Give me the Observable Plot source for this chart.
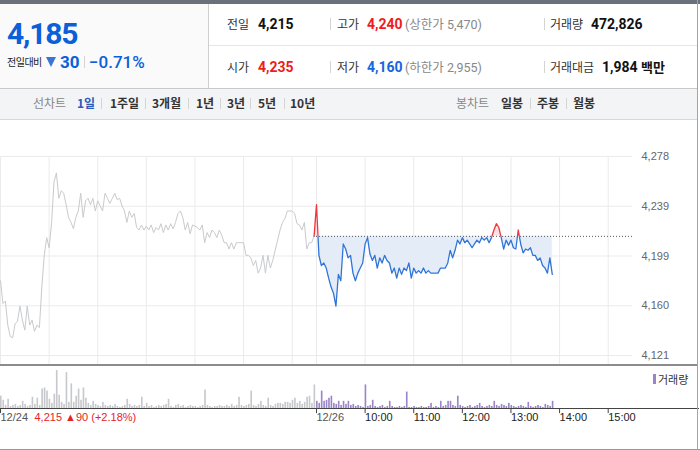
<!DOCTYPE html>
<html><head><meta charset="utf-8">
<script src="https://cdn.jsdelivr.net/npm/d3@7"></script>
<script src="https://cdn.jsdelivr.net/npm/@observablehq/plot@0.6"></script>
<style>
body{margin:0;width:700px;height:450px;position:relative;overflow:hidden;background:#fff;font-family:Roboto,"Noto Sans CJK KR",sans-serif;}
.a{position:absolute;white-space:nowrap;line-height:16px;}
.k{font-family:"Noto Sans CJK KR",sans-serif;}
.sep{position:absolute;width:1px;background:#d4d4d4;}
.lab{font-size:12px;color:#333;}
.val{font-size:14px;font-weight:700;color:#111;}
.lim{font-size:12.5px;color:#888;}
.tab{font-size:12px;font-weight:700;color:#333;top:95px;}
</style></head><body>
<div style="position:absolute;left:0;top:0;width:700px;height:4px;background:#6b717b"></div>
<div style="position:absolute;left:0;top:4px;width:208px;height:84px;background:#fafafa;border-right:1px solid #cfcfcf"></div>
<div style="position:absolute;left:209px;top:45px;width:488px;height:1px;background:#e6e6e6"></div>
<div style="position:absolute;left:0;top:88px;width:697px;height:30px;background:#f3f4f6;border-top:1px solid #c8c8c8;border-bottom:1px solid #d8d8d8"></div>

<span class="a" style="left:7px;top:17px;font-size:30px;line-height:34px;font-weight:700;color:#0b5fd9;letter-spacing:-1.2px">4,185</span>
<span class="a k" style="left:7px;top:54px;font-size:10px;letter-spacing:-0.5px;color:#222">전일대비</span>
<div style="position:absolute;left:46px;top:57px;width:0;height:0;border-left:5.5px solid transparent;border-right:5.5px solid transparent;border-top:10px solid #3b74d4"></div>
<span class="a" style="left:60px;top:53px;font-size:17px;line-height:18px;font-weight:700;color:#0b5fd9">30</span>
<div class="sep" style="left:84px;top:56px;height:12px"></div>
<span class="a" style="left:89px;top:53px;font-size:17px;line-height:18px;font-weight:500;color:#0b5fd9">−0.71%</span>

<span class="a k lab" style="left:227px;top:16px">전일</span>
<span class="a val" style="left:258px;top:16px">4,215</span>
<div class="sep" style="left:330px;top:18px;height:12px"></div>
<span class="a k lab" style="left:337px;top:16px">고가</span>
<span class="a val" style="left:367px;top:16px;color:#f01c1c">4,240</span>
<span class="a lim" style="left:405px;top:16px">(<span class="k">상한가</span> 5,470)</span>
<div class="sep" style="left:544px;top:18px;height:12px"></div>
<span class="a k lab" style="left:550px;top:16px">거래량</span>
<span class="a val" style="left:591px;top:16px">472,826</span>

<span class="a k lab" style="left:227px;top:59px">시가</span>
<span class="a val" style="left:258px;top:59px;color:#f01c1c">4,235</span>
<div class="sep" style="left:330px;top:61px;height:12px"></div>
<span class="a k lab" style="left:337px;top:59px">저가</span>
<span class="a val" style="left:367px;top:59px;color:#1467e0">4,160</span>
<span class="a lim" style="left:405px;top:59px">(<span class="k">하한가</span> 2,955)</span>
<div class="sep" style="left:544px;top:61px;height:12px"></div>
<span class="a k lab" style="left:550px;top:59px">거래대금</span>
<span class="a val" style="left:602px;top:59px">1,984 <span class="k" style="font-size:13px">백만</span></span>

<span class="a k tab" style="left:33px;font-weight:400;color:#888">선차트</span>
<span class="a k tab" style="left:77px;color:#2a5bb8">1일</span>
<div class="sep" style="left:101px;top:98px;height:11px"></div>
<span class="a k tab" style="left:110px">1주일</span>
<div class="sep" style="left:145px;top:98px;height:11px"></div>
<span class="a k tab" style="left:152px">3개월</span>
<div class="sep" style="left:188px;top:98px;height:11px"></div>
<span class="a k tab" style="left:196px">1년</span>
<div class="sep" style="left:220px;top:98px;height:11px"></div>
<span class="a k tab" style="left:227px">3년</span>
<div class="sep" style="left:250px;top:98px;height:11px"></div>
<span class="a k tab" style="left:258px">5년</span>
<div class="sep" style="left:284px;top:98px;height:11px"></div>
<span class="a k tab" style="left:290px">10년</span>
<span class="a k tab" style="left:456px;font-weight:400;color:#888">봉차트</span>
<span class="a k tab" style="left:501px">일봉</span>
<div class="sep" style="left:530px;top:98px;height:11px"></div>
<span class="a k tab" style="left:537px">주봉</span>
<div class="sep" style="left:566px;top:98px;height:11px"></div>
<span class="a k tab" style="left:573px">월봉</span>

<div id="price" style="position:absolute;left:0;top:120px;width:700px;height:245px"></div>
<div id="vol" style="position:absolute;left:0;top:365px;width:700px;height:85px"></div>
<div style="position:absolute;left:0;top:364px;width:697px;height:2px;background:#8c8c8c"></div>
<div style="position:absolute;left:0;top:449px;width:700px;height:1px;background:#9a9a9a"></div>
<div style="position:absolute;left:697px;top:0;width:1px;height:450px;background:#a4a4a4"></div>
<div style="position:absolute;left:653px;top:374px;width:3px;height:10px;background:#9a85c9"></div>
<span class="a k" style="left:658px;top:371px;font-size:11px;color:#333">거래량</span>

<script>
// ---- data ----
const basePrice = 4215;            // previous close
const stepMinutes = 3;             // sampling interval
const sessionMinutes = 390;        // 09:00 - 15:30
const prevPrice = [4180,4162,4164,4145,4136,4135,4146,4148,4160,4149,
 4141,4160,4145,4149,4140,4145,4143,4175,4200,4214,
 4206,4225,4258,4265,4245,4251,4249,4240,4230,4226,
 4221,4230,4235,4249,4230,4243,4245,4240,4245,4235,
 4243,4239,4235,4249,4245,4241,4245,4249,4244,4245,
 4239,4235,4226,4235,4230,4233,4222,4220,4224,4220,
 4223,4220,4224,4218,4222,4220,4225,4218,4224,4220,
 4225,4221,4226,4233,4235,4230,4220,4226,4217,4224,
 4223,4222,4220,4224,4210,4218,4214,4220,4218,4214,
 4220,4216,4210,4210,4205,4210,4205,4210,4210,4210,
 4210,4200,4200,4198,4192,4196,4186,4190,4200,4186,
 4200,4190,4196,4204,4212,4220,4226,4229,4235,4235,
 4235,4233,4225,4224,4220,4226,4205,4210,4210,4215];
const todayPrice = [4240,4200,4192,4194,4190,4182,4175,4170,4160,4185,
 4180,4209,4205,4198,4200,4186,4180,4186,4190,4194,
 4209,4214,4201,4196,4200,4190,4198,4194,4200,4196,
 4194,4186,4190,4182,4190,4185,4190,4188,4194,4182,
 4190,4186,4188,4186,4190,4186,4188,4186,4186,4186,
 4186,4190,4190,4190,4194,4204,4198,4204,4212,4209,
 4214,4210,4212,4209,4206,4209,4212,4210,4214,4212,
 4214,4210,4214,4220,4225,4222,4214,4205,4212,4208,
 4212,4206,4205,4220,4209,4202,4205,4204,4206,4200,
 4200,4196,4198,4192,4190,4186,4198,4185];
const prevVolume = [3600,2400,900,2700,600,900,1200,600,900,2100,
 1200,600,900,3300,1200,3000,900,5700,6000,5100,
 2700,1500,4200,11100,3900,1800,1200,10500,1800,7200,
 1800,3600,5700,2400,6000,3000,1500,900,2100,1200,
 900,600,1800,900,600,900,600,1200,600,300,
 600,900,2700,1200,600,900,600,900,3300,600,
 1500,600,900,300,600,900,600,900,1200,2700,
 600,300,900,1200,600,900,300,600,900,600,
 600,300,600,900,5400,900,600,300,600,600,
 900,600,600,900,600,1200,600,900,3300,900,
 600,900,1200,5100,900,600,1200,2100,900,600,
 3000,900,600,1200,1500,1500,1200,1800,1800,1500,
 2400,3000,1500,2100,1200,1800,3300,3600,1500,6900];
const todayVolume = [2100,1500,5100,2100,2400,3000,3600,1500,1200,2100,
 900,2100,1200,2100,900,1200,600,900,600,300,
 6900,600,900,2400,600,300,600,900,300,600,
 2100,600,300,300,600,300,600,4800,300,300,
 600,300,300,600,300,300,600,1500,300,600,
 300,2100,600,900,2100,2100,900,600,3600,900,
 600,300,600,900,300,600,900,1500,600,300,
 600,900,600,2100,900,600,1200,900,600,1500,
 900,600,300,600,900,600,300,1800,600,300,
 600,900,600,300,1200,900,600,2100];
const yTicks = [4121, 4160.25, 4199.5, 4238.75, 4278];
const yTickLabels = ["4,121","4,160","4,199","4,239","4,278"];
const gridMinutes = [0,60,120,180,240,300,360,390,450,510,570,630,690,750];
const xTickMinutes = [0,390,450,510,570,630,690,750];
const xTickLabels = ["12/24","12/26","10:00","11:00","12:00","13:00","14:00","15:00"];
const prevSummary = "4,215 ▲90 (+2.18%)";

// ---- tables ----
const prev = prevPrice.map((p, i) => ({m: i * stepMinutes, p}));
const today = todayPrice.map((p, j) => ({m: sessionMinutes + j * stepMinutes, p}));
const todayLine = [prev[prev.length - 1], ...today];
const prevVol = prevVolume.map((v, i) => ({m: i * stepMinutes, v}));
const todayVol = todayVolume.map((v, j) => ({m: sessionMinutes + j * stepMinutes, v}));
const xTicks = xTickMinutes.map((m, i) => ({m, label: xTickLabels[i], c: i < 2 ? "#555555" : "#222222"}));

const blueLine = "#2f74d6", redLine = "#f0373c", blueFill = "#e4ecf8", redFill = "#fbe1e3";
const font = "'Liberation Sans','Noto Sans CJK KR',sans-serif";
const xDomain = [0, 2 * sessionMinutes];

const price = Plot.plot({
  width: 700, height: 245, marginTop: 36, marginBottom: 10, marginLeft: 0, marginRight: 68,
  x: {domain: xDomain, axis: null},
  y: {domain: [4121, 4278], axis: null},
  style: {background: "transparent", fontFamily: font, fontSize: "11px", overflow: "visible"},
  marks: [
    Plot.ruleY(yTicks, {stroke: "#ebebeb"}),
    Plot.ruleX(gridMinutes, {stroke: "#ebebeb", insetBottom: -10}),
    Plot.text(yTicks, {y: d => d, text: (d, i) => yTickLabels[i], frameAnchor: "right", dx: 9, textAnchor: "start", fill: "#666666"}),
    Plot.areaY(todayLine, {x: "m", y1: basePrice, y2: "p", fill: blueFill}),
    Plot.areaY(todayLine, {x: "m", y1: basePrice, y2: "p", fill: redFill}),
    Plot.ruleY([basePrice], {x1: sessionMinutes, x2: 2 * sessionMinutes, stroke: "#555555", strokeDasharray: "1,2"}),
    Plot.line(prev, {x: "m", y: "p", stroke: "#c8cacd", strokeWidth: 1}),
    Plot.line(todayLine, {x: "m", y: "p", stroke: blueLine, strokeWidth: 1.3}),
    Plot.line(todayLine, {x: "m", y: "p", stroke: redLine, strokeWidth: 1.3})
  ]
});
document.getElementById("price").appendChild(price);

// split today's line/area at the previous close
let by;
try { by = price.scale("y").apply(basePrice); } catch (e) { by = NaN; }
if (!isFinite(by)) by = 36 + (4278 - basePrice) / (4278 - 4121) * (245 - 46);
const svg = d3.select(price);
const defs = svg.append("defs");
defs.append("clipPath").attr("id", "clipBelow").append("rect").attr("x", -10).attr("y", by).attr("width", 720).attr("height", 300);
defs.append("clipPath").attr("id", "clipAbove").append("rect").attr("x", -10).attr("y", -10).attr("width", 720).attr("height", by + 10);
svg.selectAll(`g[stroke="${blueLine}"], g[fill="${blueFill}"]`).attr("clip-path", "url(#clipBelow)");
svg.selectAll(`g[stroke="${redLine}"], g[fill="${redFill}"]`).attr("clip-path", "url(#clipAbove)");

const vol = Plot.plot({
  width: 700, height: 85, marginTop: 2, marginBottom: 42, marginLeft: 0, marginRight: 68,
  x: {domain: xDomain, axis: null},
  y: {domain: [0, 12000], axis: null},
  style: {background: "transparent", fontFamily: font, fontSize: "11px", overflow: "visible"},
  marks: [
    Plot.rectY(prevVol, {x1: "m", x2: d => d.m + 2, y: "v", fill: "#c6c8cc"}),
    Plot.rectY(todayVol, {x1: "m", x2: d => d.m + 2, y: "v", fill: "#9a85c9"}),
    Plot.ruleY([0], {stroke: "#444444", insetRight: -67}),
    Plot.ruleX(xTickMinutes, {y1: 0, y2: -1500, stroke: "#444444"}),
    Plot.text(xTicks, {x: "m", text: "label", frameAnchor: "bottom", dy: 12, textAnchor: "start", fill: "c"}),
    Plot.text([prevSummary], {x: 0, text: d => d, frameAnchor: "bottom", dy: 12, dx: 34, textAnchor: "start", fill: "#e8231f"})
  ]
});
document.getElementById("vol").appendChild(vol);
</script>
</body></html>
